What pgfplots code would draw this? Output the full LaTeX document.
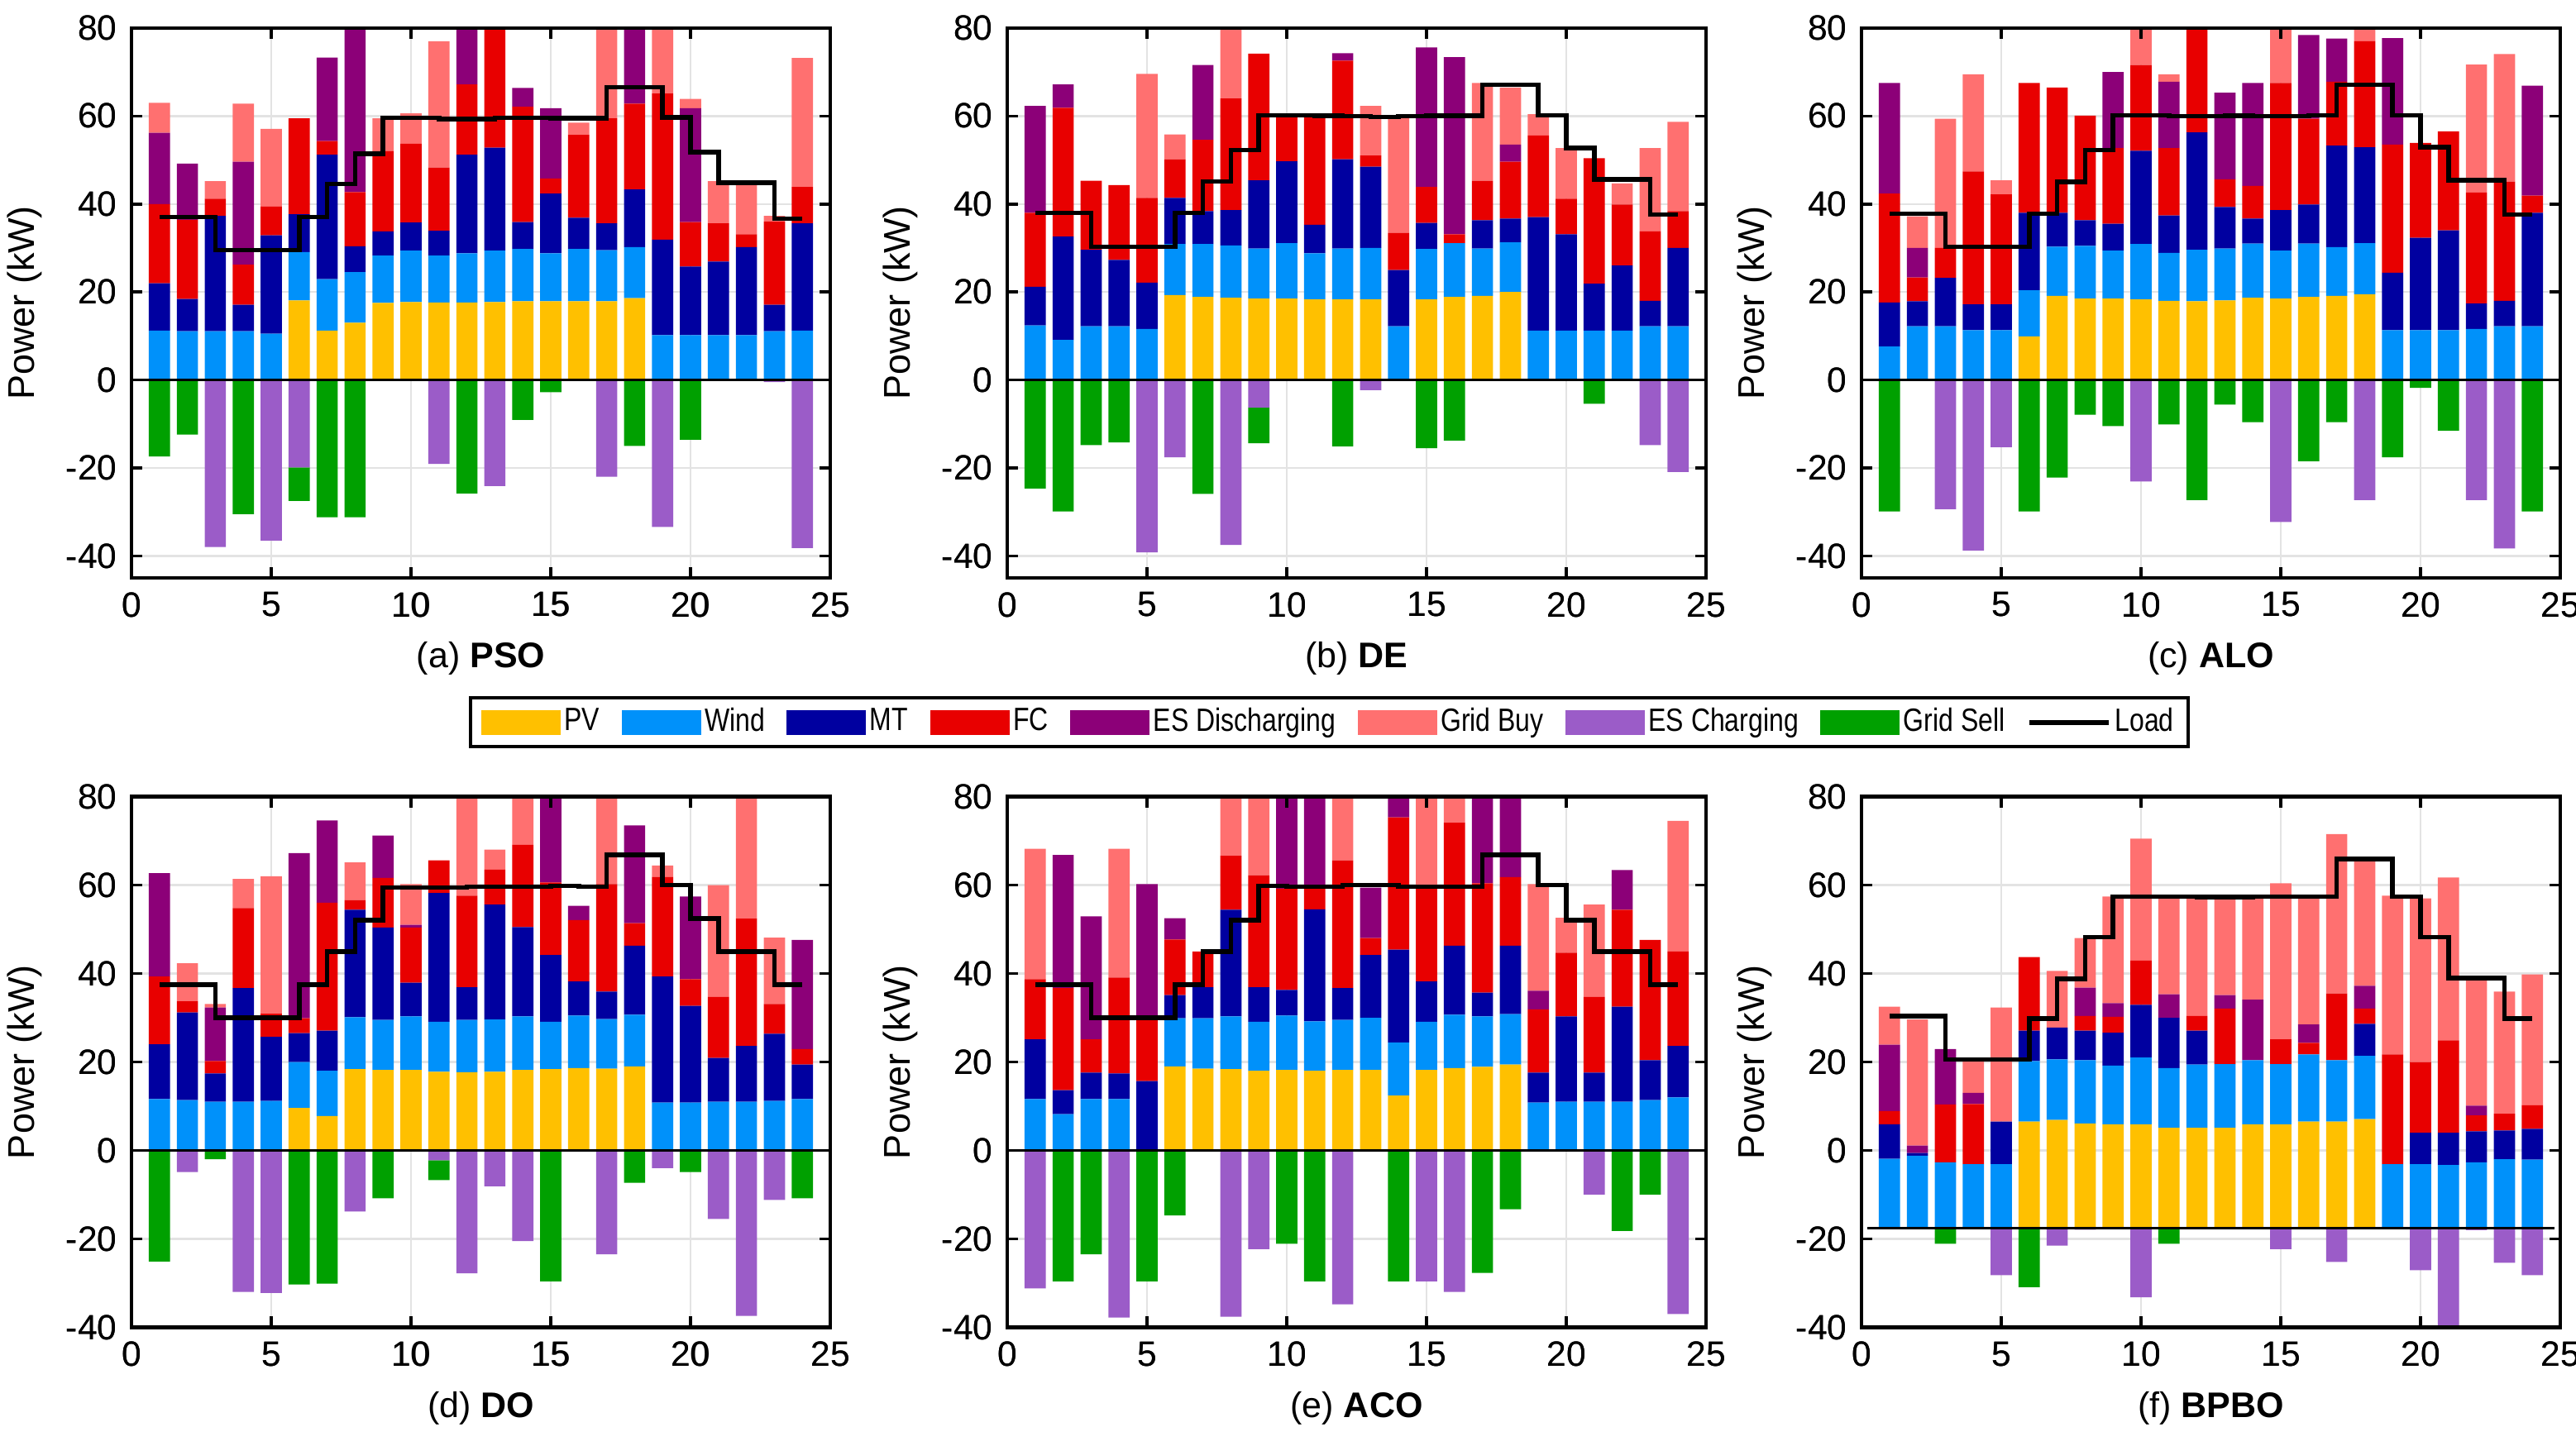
\documentclass[border=0pt]{standalone}
\usepackage{fontspec}
\setmainfont{Liberation Sans}
\newfontfamily\legfont{Liberation Sans}[FakeStretch=0.82]
\usepackage{pgfplots}
\usepackage{pgfplotstable}
\pgfplotsset{compat=1.18}

\definecolor{cPV}{RGB}{255,192,0}
\definecolor{cWD}{RGB}{0,145,250}
\definecolor{cMT}{RGB}{0,0,160}
\definecolor{cFC}{RGB}{232,0,0}
\definecolor{cED}{RGB}{140,0,120}
\definecolor{cGB}{RGB}{255,112,112}
\definecolor{cEC}{RGB}{155,92,200}
\definecolor{cGS}{RGB}{0,160,0}

% h: hour, b: base level, esc/gs: ES charging / grid sell (negative),
% rst: return of the stack to the base level, pv..gb: supplied power, ld: load
\pgfplotstableread{
h b esc gs rst pv wd mt fc esd gb ld
1 0 0 -17.4 17.4 0 11.2 10.8 18.0 16.2 6.8 37
2 0 0 -12.4 12.4 0 11.1 7.3 18.0 12.8 0 37
3 0 -38.0 0 38.0 0 11.1 26.2 3.9 0 4.0 29.5
4 0 0 -30.5 30.5 0 11.1 6.0 9.1 23.4 13.2 29.5
5 0 -36.5 0 36.5 0 10.5 22.4 6.5 0 17.7 29.5
6 0 -19.9 -7.6 27.5 18.1 11.0 8.6 21.8 0 0 37
7 0 0 -31.2 31.2 11.2 11.7 28.3 3.1 19.0 0 44.6
8 0 0 -31.2 31.2 13.0 11.5 5.9 12.3 39.3 0 51.4
9 0 0 0 0 17.5 10.8 5.5 18.2 0 7.5 59.6
10 0 0 0 0 17.7 11.7 6.4 17.9 0 6.9 59.6
11 0 -19.1 0 19.1 17.6 10.7 5.6 14.4 0 28.7 59.3
12 0 0 -25.8 25.8 17.6 11.2 22.4 16.0 15.0 0 59.3
13 0 -24.1 0 24.1 17.7 11.7 23.4 29.2 0 0 59.6
14 0 0 -9.1 9.1 17.9 11.9 6.1 26.2 4.3 0 59.6
15 0 0 -2.8 2.8 17.9 10.9 13.6 3.4 16.0 0 59.5
16 0 0 0 0 17.9 11.9 7.1 18.8 0 2.8 59.5
17 0 -22.0 0 22.0 17.9 11.6 6.1 23.9 0 22.5 66.6
18 0 0 -15.0 15.0 18.6 11.6 13.1 19.5 19.2 0 66.6
19 0 -33.4 0 33.4 0 10.2 21.7 33.2 0 17.0 59.7
20 0 0 -13.6 13.6 0 10.2 15.6 10.1 25.9 2.1 51.8
21 0 0 0 0 0 10.2 16.7 8.7 0 9.6 44.8
22 0 0 0 0 0 10.2 20.0 2.9 0 12.1 44.8
23 0 -0.5 0 0.5 0 11.1 6.0 18.9 0 1.3 36.7
24 0 -38.2 0 38.2 0 11.2 24.4 8.3 0 29.3 36.7
}\tabA

\pgfplotstableread{
h b esc gs rst pv wd mt fc esd gb ld
1 0 0 -24.7 24.7 0 12.4 8.8 16.8 24.3 0 38
2 0 0 -29.9 29.9 0 9.1 23.5 29.3 5.3 0 38
3 0 0 -14.8 14.8 0 12.2 17.4 15.7 0 0 30.3
4 0 0 -14.2 14.2 0 12.2 15.1 17.0 0 0 30.3
5 0 -39.2 0 39.2 0 11.6 10.5 19.3 0 28.2 30.3
6 0 -17.6 0 17.6 19.3 11.6 10.5 8.8 0 5.6 38
7 0 0 -25.9 25.9 18.9 12.0 7.5 16.2 17.0 0 45.1
8 0 -37.5 0 37.5 18.7 11.9 8.0 25.4 0 18.0 52.3
9 0 -6.3 -8.1 14.4 18.5 11.4 15.5 28.8 0 0 60.2
10 0 0 0 0 18.5 12.6 18.6 10.8 0 0 60.2
11 0 0 0 0 18.3 10.5 6.5 24.7 0 0 60.1
12 0 0 -15.1 15.1 18.3 11.6 20.3 22.4 1.7 0 60.0
13 0 -2.3 0 2.3 18.3 11.7 18.5 2.5 0 11.3 59.8
14 0 0 0 0 0 12.2 12.8 8.4 0 26.2 60.0
15 0 0 -15.5 15.5 18.3 11.5 5.9 8.2 31.7 0 60.1
16 0 0 -13.8 13.8 18.9 12.2 0 2.0 40.3 0 60.1
17 0 0 0 0 19.1 10.8 6.4 9.0 0 22.2 67.1
18 0 0 0 0 20.0 11.3 5.4 12.9 3.9 13.0 67.1
19 0 0 0 0 0 11.2 25.8 18.6 0 4.8 60.2
20 0 0 0 0 0 11.2 21.9 8.1 0 11.5 52.7
21 0 0 -5.4 5.4 0 11.2 10.7 28.5 0 0 45.6
22 0 0 0 0 0 11.2 14.8 13.9 0 4.8 45.6
23 0 -14.8 0 14.8 0 12.2 5.8 15.8 0 18.9 37.6
24 0 -20.9 0 20.9 0 12.2 17.8 8.4 0 20.3 37.6
}\tabB

\pgfplotstableread{
h b esc gs rst pv wd mt fc esd gb ld
1 0 0 -29.9 29.9 0 7.6 10.0 24.8 25.1 0 37.8
2 0 0 0 0 0 12.2 5.7 5.4 6.7 7.2 37.8
3 0 -29.4 0 29.4 0 12.2 11.0 6.8 0 29.4 30.3
4 0 -38.8 0 38.8 0 11.3 5.9 30.2 0 22.1 30.3
5 0 -15.3 0 15.3 0 11.3 5.9 25.0 0 3.2 30.3
6 0 0 -29.9 29.9 9.9 10.5 17.6 29.5 0 0 37.8
7 0 0 -22.2 22.2 19.1 11.2 7.7 28.5 0 0 45.0
8 0 0 -7.9 7.9 18.5 12.0 5.8 23.8 0 0 52.3
9 0 0 -10.5 10.5 18.5 10.9 6.1 17.2 17.3 0 60.2
10 0 -23.1 0 23.1 18.3 12.6 21.2 19.5 0 10.0 60.2
11 0 0 -10.1 10.1 18.0 10.9 8.5 15.3 15.1 1.7 60.0
12 0 0 -27.3 27.3 17.9 11.7 26.7 26.0 0 0 60.0
13 0 0 -5.6 5.6 18.1 11.8 9.4 6.3 19.7 0 60.1
14 0 0 -9.6 9.6 18.7 12.3 5.7 7.4 23.4 0 60.0
15 0 -32.3 0 32.3 18.5 10.9 9.2 28.9 0 14.0 60.0
16 0 0 -18.5 18.5 18.9 12.1 8.9 19.5 19.0 0 60.2
17 0 0 -9.6 9.6 19.1 11.1 23.1 14.5 9.8 0 67.1
18 0 -27.3 0 27.3 19.5 11.6 21.8 24.1 0 5.0 67.1
19 0 0 -17.6 17.6 0 11.3 13.1 29.1 24.2 0 60.2
20 0 0 -1.8 1.8 0 11.3 21.0 21.6 0 0 52.9
21 0 0 -11.5 11.5 0 11.3 22.7 22.5 0 0 45.4
22 0 -27.3 0 27.3 0 11.6 5.8 25.2 0 29.1 45.4
23 0 -38.3 0 38.3 0 12.2 5.8 27.1 0 29.0 37.6
24 0 0 -29.9 29.9 0 12.2 25.8 3.9 25.0 0 37.6
}\tabC

\pgfplotstableread{
h b esc gs rst pv wd mt fc esd gb ld
1 0 0 -25.1 25.1 0 11.6 12.4 15.3 23.4 0 37.5
2 0 -4.9 0 4.9 0 11.4 19.8 2.5 0 8.6 37.5
3 0 0 -2.0 2.0 0 11.0 6.4 2.8 12.1 0.8 30
4 0 -32.0 0 32.0 0 11.0 25.7 18.1 0 6.6 30
5 0 -32.2 0 32.2 0 11.2 14.5 5.2 0 31.1 30
6 0 0 -30.3 30.3 9.6 10.4 6.5 3.4 37.3 0 37.5
7 0 0 -30.1 30.1 7.8 10.2 9.1 28.9 18.6 0 45
8 0 -13.8 0 13.8 18.4 11.7 24.3 2.2 0 8.5 52.1
9 0 0 -10.8 10.8 18.2 11.3 20.9 11.2 9.6 0 59.4
10 0 0 0 0 18.2 12.1 7.6 12.5 0.6 9.2 59.4
11 0 -2.2 -4.5 6.7 17.8 11.3 29.1 7.4 0 0 59.4
12 0 -27.8 0 27.8 17.7 11.8 7.4 20.7 0 24.5 59.6
13 0 -8.1 0 8.1 17.8 11.8 26.0 7.9 0 4.5 59.6
14 0 -20.5 0 20.5 18.2 12.1 20.2 18.6 0 13.0 59.6
15 0 0 -29.6 29.6 18.4 10.7 15.1 16.4 21.4 0 59.8
16 0 0 0 0 18.6 11.9 7.7 13.9 3.2 0 59.6
17 0 -23.5 0 23.5 18.5 11.2 6.2 24.3 0 21.8 66.8
18 0 0 -7.3 7.3 19.0 11.7 15.6 5.1 22.1 0 66.8
19 0 -4.0 0 4.0 0 10.8 28.5 22.5 0 2.6 60
20 0 0 -4.9 4.9 0 10.8 21.9 6.0 18.7 0 52.4
21 0 -15.5 0 15.5 0 11.0 9.9 13.8 0 25.3 45
22 0 -37.4 0 37.4 0 11.0 12.6 28.8 0 29.6 45
23 0 -11.2 0 11.2 0 11.2 15.2 6.7 0 15.0 37.5
24 0 0 -10.8 10.8 0 11.6 7.8 3.5 24.7 0 37.5
}\tabD

\pgfplotstableread{
h b esc gs rst pv wd mt fc esd gb ld
1 0 -31.2 0 31.2 0 11.6 13.5 13.6 0 29.5 37.5
2 0 0 -29.6 29.6 0 8.2 5.4 23.1 30.1 0 37.5
3 0 0 -23.5 23.5 0 11.6 6.0 7.5 27.8 0 30
4 0 -37.8 0 37.8 0 11.6 5.8 21.7 0 29.1 30
5 0 0 -29.6 29.6 0 0 15.7 13.8 30.7 0 30
6 0 0 -14.7 14.7 19.0 10.9 5.2 12.6 4.8 0 37.5
7 0 0 0 0 18.5 11.4 7.0 8.1 0 0 45
8 0 -37.6 0 37.6 18.4 11.9 24.1 12.2 0 15.6 52.1
9 0 -22.3 0 22.3 18.0 11.1 7.8 25.3 0 20.0 59.8
10 0 0 -21.1 21.1 18.2 12.3 5.8 22.9 23.0 0 59.6
11 0 0 -29.6 29.6 18.0 11.2 25.3 4.7 23.0 0 59.6
12 0 -34.8 0 34.8 18.2 11.3 7.2 28.9 0 16.6 60
13 0 0 0 0 18.2 11.8 14.2 3.8 11.4 0 60
14 0 0 -29.6 29.6 12.4 12.0 21.0 29.9 6.9 0 59.6
15 0 -29.6 0 29.6 18.2 10.9 9.1 21.8 0 22.2 59.6
16 0 -32.0 0 32.0 18.6 12.1 15.6 27.8 0 8.1 59.6
17 0 0 -27.7 27.7 18.9 11.4 5.4 24.7 21.8 0 66.8
18 0 0 -13.3 13.3 19.4 11.4 15.5 15.5 20.4 0 66.8
19 0 0 0 0 0 10.8 6.8 14.3 4.2 24.1 60
20 0 0 0 0 0 11.0 19.3 14.4 0 7.9 52.1
21 0 -10.0 0 10.0 0 11.0 6.6 17.1 0 20.9 45
22 0 0 -18.2 18.2 0 11.0 21.5 21.9 9.0 0 45
23 0 0 -10.0 10.0 0 11.4 9.0 27.2 0 0 37.5
24 0 -37.0 0 37.0 0 12.0 11.6 21.4 0 29.5 37.5
}\tabE

\pgfplotstableread{
h b esc gs rst pv wd mt fc esd gb ld
1 -17.6 0 0 0 0 15.7 7.8 3.0 15.0 8.6 30.4
2 -17.6 0 0 0 0 16.4 0.6 0 1.7 28.5 30.4
3 -17.6 0 -3.5 3.5 0 14.9 0 13.1 12.5 0 20.6
4 -17.6 0 0 0 0 14.5 0 13.6 2.5 7.2 20.6
5 -17.6 -10.6 0 10.6 0 14.5 9.6 0 0 25.8 20.6
6 -17.6 0 -13.3 13.3 24.1 13.7 6.9 16.6 0 0 29.8
7 -17.6 -3.9 0 3.9 24.5 13.7 7.2 0 0 12.8 38.8
8 -17.6 -0.3 0 0.3 23.7 14.3 6.7 3.3 6.4 11.2 48.2
9 -17.6 0 0 0 23.5 13.3 7.4 3.6 3.1 24.1 57.4
10 -17.6 -15.6 0 15.6 23.5 15.1 11.9 10.0 0 27.6 57.4
11 -17.6 0 -3.5 3.5 22.7 13.5 11.4 0 5.3 21.7 57.4
12 -17.6 0 0 0 22.7 14.3 7.7 3.3 0 26.6 57.3
13 -17.6 0 0 0 22.7 14.4 0 12.6 3.0 21.9 57.3
14 -17.6 0 0 0 23.5 14.5 0 0 13.7 22.9 57.4
15 -17.6 -4.7 0 4.7 23.5 13.6 0 5.6 0 35.3 57.4
16 -17.6 0 0 0 24.1 15.2 0 2.6 4.2 28.5 57.4
17 -17.6 -7.6 0 7.6 24.1 13.9 0 15.1 0 36.0 65.9
18 -17.6 0 0 0 24.7 14.3 7.2 3.5 5.1 28.1 65.9
19 -17.6 0 0 0 0 14.5 0 24.8 0 35.9 57.4
20 -17.6 -9.5 0 9.5 0 14.5 7.1 16.0 0 37.0 48.2
21 -17.6 -23.0 0 23.0 0 14.3 7.3 20.9 0 36.8 39.0
22 -17.6 -0.4 0 0.4 0 14.9 7.0 3.6 2.2 28.5 39.0
23 -17.6 -7.8 0 7.8 0 15.6 6.5 3.8 0 27.6 29.8
24 -17.6 -10.6 0 10.6 0 15.5 7.0 5.3 0 29.6 29.8
}\tabF

\newcommand{\tfont}{\fontsize{8.5}{10}\selectfont}

\pgfplotsset{
  base/.style={
    scale only axis, width=169pt, anchor=south west,
    xmin=0, xmax=25, xtick={0,5,...,25}, ytick={-40,-20,...,80},
    tick align=inside, major tick length=2.6pt,
    tick style={black, line width=0.7pt},
    axis line style={black, line width=0.9pt},
    ticklabel style={font=\tfont},
    /pgf/number format/assume math mode=true,
  },
  row1/.style={height=133pt, ymin=-45, ymax=80},
  row2/.style={height=128.4pt, ymin=-40, ymax=80},
  bars/.style={base, ybar stacked, stack negative=on previous, bar width=0.76,
    grid=major, major grid style={gray!22, line width=0.5pt},
    ylabel={Power (kW)},
    ylabel style={font=\fontsize{9}{10}\selectfont, at={(axis description cs:-0.1527,0.5)}, anchor=center},
    xlabel style={font=\fontsize{8.6}{10}\selectfont, at={(axis description cs:0.5,0)}, anchor=center, yshift=-19.5pt},
  },
  over/.style={base, xticklabel={}, yticklabel={}},
  barleg/.style={legend image code/.code={\fill[##1] (0pt,-3pt) rectangle (19.2pt,3pt);}},
  lineleg/.style={legend image code/.code={\draw[##1] (0pt,0pt) -- (19.2pt,0pt);}},
}

\newcommand{\stackbars}[1]{%
  \addplot[draw=none, fill=none] table[x=h, y=b]{#1};
  \addplot[draw=none, fill=cEC] table[x=h, y=esc]{#1};
  \addplot[draw=none, fill=cGS] table[x=h, y=gs]{#1};
  \addplot[draw=none, fill=none] table[x=h, y=rst]{#1};
  \addplot[draw=none, fill=cPV] table[x=h, y=pv]{#1};
  \addplot[draw=none, fill=cWD] table[x=h, y=wd]{#1};
  \addplot[draw=none, fill=cMT] table[x=h, y=mt]{#1};
  \addplot[draw=none, fill=cFC] table[x=h, y=fc]{#1};
  \addplot[draw=none, fill=cED] table[x=h, y=esd]{#1};
  \addplot[draw=none, fill=cGB] table[x=h, y=gb]{#1};
}
\newcommand{\loadline}[1]{%
  \addplot[const plot mark left, black, line width=1.1pt, forget plot] table[x=h, y=ld]{#1};
}

\begin{document}
\begin{tikzpicture}
\useasboundingbox (0,0) rectangle (623pt,349.8pt);

% ---------- (a) PSO ----------
\begin{axis}[bars, row1, at={(31.8pt,210pt)}, xlabel={(a) \textbf{PSO}}]
\stackbars{\tabA}
\end{axis}
\begin{axis}[over, row1, at={(31.8pt,210pt)}]
\addplot[black, line width=0.7pt, forget plot] coordinates {(0,0) (25,0)};
\loadline{\tabA}
\end{axis}

% ---------- (b) DE ----------
\begin{axis}[bars, row1, at={(243.6pt,210pt)}, xlabel={(b) \textbf{DE}}]
\stackbars{\tabB}
\end{axis}
\begin{axis}[over, row1, at={(243.6pt,210pt)},
  legend columns=9, legend cell align=left,
  legend style={at={(axis description cs:0.461,-0.263)}, anchor=center,
    draw=black, line width=0.8pt, fill=white,
    font=\legfont\fontsize{7.8}{8.5}\selectfont,
    inner xsep=2.5pt, inner ysep=1.3pt,
    nodes={inner xsep=0.9pt, inner ysep=1pt},
    /tikz/every even column/.append style={column sep=4.4pt}}]
\addlegendimage{barleg, fill=cPV, draw=none}\addlegendentry{PV}
\addlegendimage{barleg, fill=cWD, draw=none}\addlegendentry{Wind}
\addlegendimage{barleg, fill=cMT, draw=none}\addlegendentry{MT}
\addlegendimage{barleg, fill=cFC, draw=none}\addlegendentry{FC}
\addlegendimage{barleg, fill=cED, draw=none}\addlegendentry{ES Discharging}
\addlegendimage{barleg, fill=cGB, draw=none}\addlegendentry{Grid Buy}
\addlegendimage{barleg, fill=cEC, draw=none}\addlegendentry{ES Charging}
\addlegendimage{barleg, fill=cGS, draw=none}\addlegendentry{Grid Sell}
\addlegendimage{lineleg, black, line width=1.2pt}\addlegendentry{Load}
\addplot[black, line width=0.7pt, forget plot] coordinates {(0,0) (25,0)};
\loadline{\tabB}
\end{axis}

% ---------- (c) ALO ----------
\begin{axis}[bars, row1, at={(450.2pt,210pt)}, xlabel={(c) \textbf{ALO}}]
\stackbars{\tabC}
\end{axis}
\begin{axis}[over, row1, at={(450.2pt,210pt)}]
\addplot[black, line width=0.7pt, forget plot] coordinates {(0,0) (25,0)};
\loadline{\tabC}
\end{axis}

% ---------- (d) DO ----------
\begin{axis}[bars, row2, at={(31.8pt,28.7pt)}, xlabel={(d) \textbf{DO}}]
\stackbars{\tabD}
\end{axis}
\begin{axis}[over, row2, at={(31.8pt,28.7pt)}]
\addplot[black, line width=0.7pt, forget plot] coordinates {(0,0) (25,0)};
\loadline{\tabD}
\end{axis}

% ---------- (e) ACO ----------
\begin{axis}[bars, row2, at={(243.6pt,28.7pt)}, xlabel={(e) \textbf{ACO}}]
\stackbars{\tabE}
\end{axis}
\begin{axis}[over, row2, at={(243.6pt,28.7pt)}]
\addplot[black, line width=0.7pt, forget plot] coordinates {(0,0) (25,0)};
\loadline{\tabE}
\end{axis}

% ---------- (f) BPBO ----------
\begin{axis}[bars, row2, at={(450.2pt,28.7pt)}, xlabel={(f) \textbf{BPBO}}]
\stackbars{\tabF}
\end{axis}
\begin{axis}[over, row2, at={(450.2pt,28.7pt)}]
\addplot[black, line width=0.7pt, forget plot] coordinates {(0.2,-17.6) (24.8,-17.6)};
\loadline{\tabF}
\end{axis}
\end{tikzpicture}
\end{document}
